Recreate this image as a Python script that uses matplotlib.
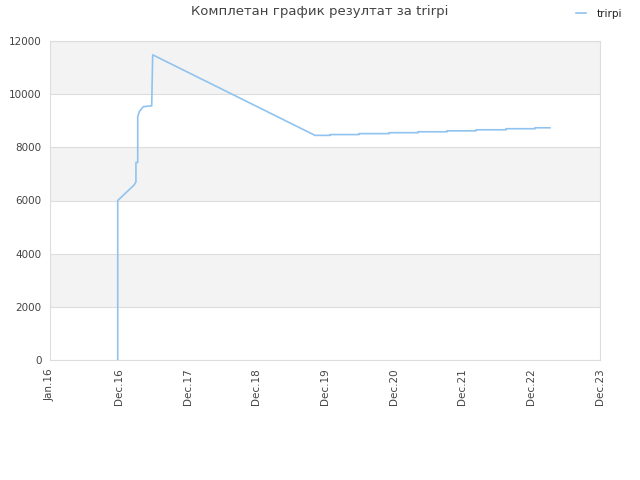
import matplotlib
matplotlib.use("Agg")
import matplotlib.pyplot as plt

title = "Комплетан график резултат за trirpi"
series_name = "trirpi"
# x in fractional years, y = score
x_years = [2016.985, 2016.985, 2017.222, 2017.25, 2017.25, 2017.276, 2017.276, 2017.30, 2017.357,
           2017.479, 2017.494, 2019.855, 2020.073, 2020.073, 2020.495, 2020.495, 2020.931, 2020.931,
           2021.353, 2021.353, 2021.775, 2021.775, 2022.196, 2022.196, 2022.633, 2022.633, 2023.055,
           2023.055, 2023.273]
y_values = [0, 6000, 6580, 6700, 7430, 7430, 9150, 9350, 9530,
            9560, 11480, 8450, 8450, 8480, 8480, 8515, 8515, 8550, 8550, 8585, 8585, 8620, 8620,
            8660, 8660, 8700, 8700, 8735, 8735]
tick_positions = [2016, 2017, 2018, 2019, 2020, 2021, 2022, 2023, 2024]
tick_labels = ["Jan.16", "Dec.16", "Dec.17", "Dec.18", "Dec.19", "Dec.20", "Dec.21", "Dec.22", "Dec.23"]
y_ticks = [0, 2000, 4000, 6000, 8000, 10000, 12000]

fig = plt.figure(figsize=(6.4, 4.8), dpi=100)
ax = fig.add_axes([50/640, 120/480, 550/640, 319/480])

# alternating bands
for i in range(len(y_ticks) - 1):
    if i % 2 == 1:
        ax.axhspan(y_ticks[i], y_ticks[i + 1], color="#f3f3f3", zorder=0, lw=0)
for yt in y_ticks:
    ax.axhline(yt, color="#dddddd", lw=0.8, zorder=1)

line, = ax.plot(x_years, y_values, color="#90c3f0", lw=1.2, zorder=3, label=series_name)

ax.set_xlim(2016, 2024)
ax.set_ylim(0, 12000)
ax.set_xticks(tick_positions)
ax.set_xticklabels(tick_labels, rotation=90, fontsize=7.5, color="#444444")
ax.set_yticks(y_ticks)
ax.set_yticklabels([str(v) for v in y_ticks], fontsize=7.5, color="#444444")
ax.tick_params(length=0, pad=6)
for s in ax.spines.values():
    s.set_color("#dddddd")
    s.set_linewidth(0.8)

fig.text(0.5, 1 - 12/480, title, ha="center", va="center", fontsize=9.5, color="#444444")
fig.legend(handles=[line], loc="center left", bbox_to_anchor=(576/640, 1 - 14/480), frameon=False,
           fontsize=7.5, handlelength=1.0, handletextpad=1.0, borderaxespad=0, borderpad=0,
           labelcolor="#222222")

fig.savefig("out.png", dpi=100)
